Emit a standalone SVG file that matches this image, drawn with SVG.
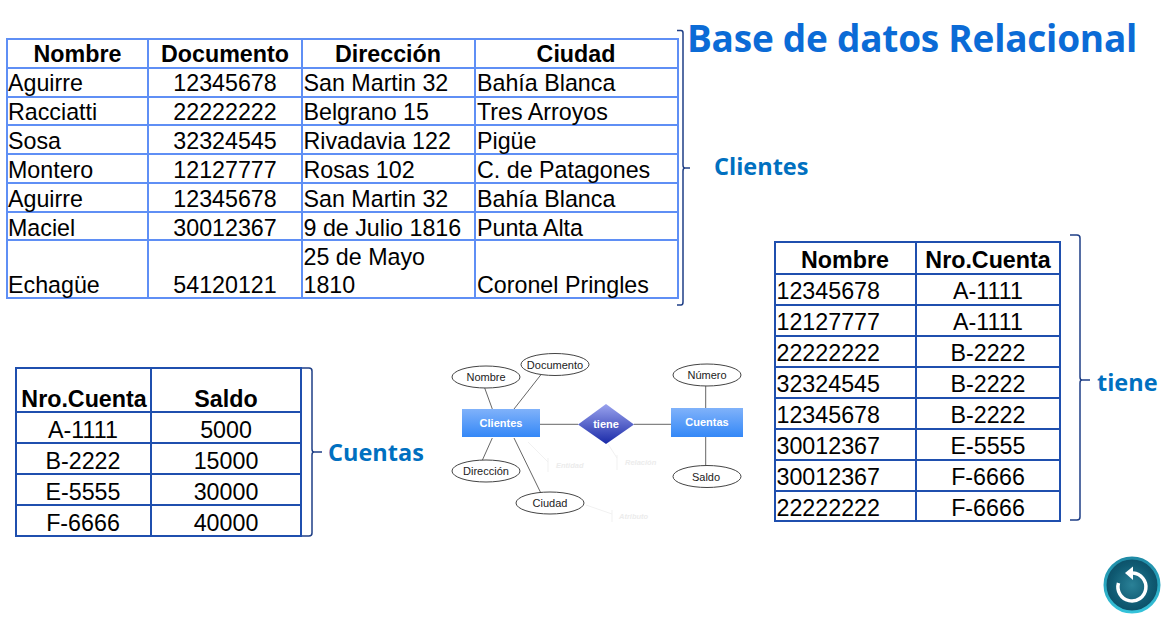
<svg xmlns="http://www.w3.org/2000/svg" width="1175" height="620" viewBox="0 0 1175 620">
<style>
text{font-family:"Liberation Sans",Arial,sans-serif}
.c{font-size:23.250px;fill:#000}
.m{text-anchor:middle}
.b{font-weight:bold}
.g1{stroke:#5f8ff5;stroke-width:2;fill:none}
.g2{stroke:#1f4fae;stroke-width:2;fill:none}
.br{stroke:#1f3f86;stroke-width:1.5;fill:none}
.lab{font-family:"Open Sans","Liberation Sans",sans-serif;font-weight:bold;font-size:23.500px;fill:#0070c0}
.e{fill:#fff;stroke:#444;stroke-width:1}
.et{font-size:11px;fill:#222;text-anchor:middle}
.l{stroke:#666;stroke-width:1;fill:none}
.f{stroke:#f1f1f1;stroke-width:1;fill:none}
.ft{font-size:7.500px;font-weight:bold;font-style:italic;fill:#ececec}
.w{font-size:11px;font-weight:bold;fill:#fff;text-anchor:middle}
.title{font-family:"Open Sans","Liberation Sans",sans-serif;font-size:37px;letter-spacing:-0.240px;font-weight:bold;fill:#0b6bd6}
</style>
<defs>
<linearGradient id="bx" x1="0" y1="0" x2="0" y2="1"><stop offset="0" stop-color="#80b2fa"/><stop offset="1" stop-color="#3488f7"/></linearGradient>
<linearGradient id="dm" x1="0" y1="0" x2="0" y2="1"><stop offset="0" stop-color="#9aa3ee"/><stop offset="1" stop-color="#1a2aa8"/></linearGradient>
<radialGradient id="ic" cx="0.5" cy="0.5" r="0.5"><stop offset="0" stop-color="#2a8197"/><stop offset="0.75" stop-color="#0f5a72"/><stop offset="1" stop-color="#0d5068"/></radialGradient>
<linearGradient id="rg" x1="0" y1="0" x2="0" y2="1"><stop offset="0" stop-color="#1f8ba6"/><stop offset="1" stop-color="#35c3da"/></linearGradient>
</defs>

<text class="title" x="687" y="52">Base de datos Relacional</text>

<g id="tabla-clientes">
<path class="g1" d="M7 39H678V298H7ZM148 39V298M302 39V298M475 39V298M7 68H678M7 97H678M7 125H678M7 154H678M7 183H678M7 212H678M7 240H678"/>
<text class="c b m" x="77.500" y="62">Nombre</text><text class="c b m" x="225" y="62">Documento</text><text class="c b m" x="388" y="62">Dirección</text><text class="c b m" x="576" y="62">Ciudad</text>
<text class="c" x="8" y="91">Aguirre</text><text class="c m" x="225" y="91">12345678</text><text class="c" x="303.500" y="91">San Martin 32</text><text class="c" x="477" y="91">Bahía Blanca</text>
<text class="c" x="8" y="120">Racciatti</text><text class="c m" x="225" y="120">22222222</text><text class="c" x="303.500" y="120">Belgrano 15</text><text class="c" x="477" y="120">Tres Arroyos</text>
<text class="c" x="8" y="149">Sosa</text><text class="c m" x="225" y="149">32324545</text><text class="c" x="303.500" y="149">Rivadavia 122</text><text class="c" x="477" y="149">Pigüe</text>
<text class="c" x="8" y="178">Montero</text><text class="c m" x="225" y="178">12127777</text><text class="c" x="303.500" y="178">Rosas 102</text><text class="c" x="477" y="178">C. de Patagones</text>
<text class="c" x="8" y="207">Aguirre</text><text class="c m" x="225" y="207">12345678</text><text class="c" x="303.500" y="207">San Martin 32</text><text class="c" x="477" y="207">Bahía Blanca</text>
<text class="c" x="8" y="236">Maciel</text><text class="c m" x="225" y="236">30012367</text><text class="c" x="303.500" y="236">9 de Julio 1816</text><text class="c" x="477" y="236">Punta Alta</text>
<text class="c" x="303.500" y="265">25 de Mayo</text>
<text class="c" x="8" y="293">Echagüe</text><text class="c m" x="225" y="293">54120121</text><text class="c" x="303.500" y="293">1810</text><text class="c" x="477" y="293">Coronel Pringles</text>
<path class="br" d="M677 30.500H681Q683 30.500 683 33V165Q683 168 685 168H690M685 168Q683 168 683 171V302Q683 305 681 305H677"/>
<text class="lab" x="714" y="175">Clientes</text>
</g>

<g id="tabla-cuentas">
<path class="g2" d="M16 368H301V536H16ZM151 368V536M16 412H301M16 443H301M16 474H301M16 505H301"/>
<text class="c b m" x="84" y="407">Nro.Cuenta</text><text class="c b m" x="226" y="407">Saldo</text>
<text class="c m" x="83" y="438">A-1111</text><text class="c m" x="226" y="438">5000</text>
<text class="c m" x="83" y="469">B-2222</text><text class="c m" x="226" y="469">15000</text>
<text class="c m" x="83" y="500">E-5555</text><text class="c m" x="226" y="500">30000</text>
<text class="c m" x="83" y="531">F-6666</text><text class="c m" x="226" y="531">40000</text>
<path class="br" d="M302 368H309Q312 368 312 371V449Q312 452 314 452H322M314 452Q312 452 312 455V533Q312 536 309 536H302"/>
<text class="lab" x="328" y="461">Cuentas</text>
</g>

<g id="tabla-tiene">
<path class="g2" d="M775 242H1060V521H775ZM916 242V521M775 274H1060M775 305H1060M775 336H1060M775 367H1060M775 398H1060M775 429H1060M775 460H1060M775 491H1060"/>
<text class="c b m" x="845" y="268">Nombre</text><text class="c b m" x="988" y="268">Nro.Cuenta</text>
<text class="c" x="776.500" y="299">12345678</text><text class="c m" x="988" y="299">A-1111</text>
<text class="c" x="776.500" y="330">12127777</text><text class="c m" x="988" y="330">A-1111</text>
<text class="c" x="776.500" y="361">22222222</text><text class="c m" x="988" y="361">B-2222</text>
<text class="c" x="776.500" y="392">32324545</text><text class="c m" x="988" y="392">B-2222</text>
<text class="c" x="776.500" y="423">12345678</text><text class="c m" x="988" y="423">B-2222</text>
<text class="c" x="776.500" y="454">30012367</text><text class="c m" x="988" y="454">E-5555</text>
<text class="c" x="776.500" y="485">30012367</text><text class="c m" x="988" y="485">F-6666</text>
<text class="c" x="776.500" y="516">22222222</text><text class="c m" x="988" y="516">F-6666</text>
<path class="br" d="M1070 235H1077Q1080 235 1080 238V377Q1080 380 1082 380H1090M1082 380Q1080 380 1080 383V517Q1080 520 1077 520H1070"/>
<text class="lab" x="1097" y="391">tiene</text>
</g>

<g id="er-conectores">
<path class="l" d="M484.700 388L492.300 409M540.700 375L514 409M492.300 438L482.300 460.300M514 438L540.700 492.700M540 424.300H578M634 424.300H671M705.700 385.700V408M705.700 437V465.700"/>
<path class="f" d="M528 442L548 462M548 458V472M608 444L617 458M617 455V470M586 505L612 514M612 510V522"/>
<text class="ft" x="556" y="468">Entidad</text>
<text class="ft" x="625" y="465">Relación</text>
<text class="ft" x="619" y="519">Atributo</text>
</g>
<g id="er-nombre"><ellipse class="e" cx="486" cy="377" rx="34" ry="11"/><text class="et" x="486" y="381">Nombre</text></g>
<g id="er-documento"><ellipse class="e" cx="555" cy="364.500" rx="34" ry="11"/><text class="et" x="555" y="368.500">Documento</text></g>
<g id="er-direccion"><ellipse class="e" cx="486" cy="471" rx="34" ry="11"/><text class="et" x="486" y="475">Dirección</text></g>
<g id="er-ciudad"><ellipse class="e" cx="550" cy="503" rx="34" ry="11"/><text class="et" x="550" y="507">Ciudad</text></g>
<g id="er-numero"><ellipse class="e" cx="707" cy="375" rx="34" ry="11"/><text class="et" x="707" y="379">Número</text></g>
<g id="er-saldo"><ellipse class="e" cx="707" cy="476.500" rx="34" ry="11"/><text class="et" x="706" y="481">Saldo</text></g>
<g id="er-clientes"><rect x="462" y="409" width="78" height="28" fill="url(#bx)"/><text class="w" x="501" y="427">Clientes</text></g>
<g id="er-cuentas"><rect x="671" y="408" width="72" height="29" fill="url(#bx)"/><text class="w" x="707" y="426">Cuentas</text></g>
<g id="er-tiene"><polygon points="606,404 634,424.500 606,444 578,424.500" fill="url(#dm)"/><text class="w" x="606" y="428">tiene</text></g>

<g id="boton-volver">
<circle cx="1132" cy="585" r="27" fill="url(#ic)" stroke="url(#rg)" stroke-width="3"/>
<path d="M1133 573A14 14 0 1 1 1118.500 583" fill="none" stroke="#fff" stroke-width="3.500"/>
<polygon points="1125,573 1133,566.500 1133,580" fill="#fff"/>
</g>
</svg>
